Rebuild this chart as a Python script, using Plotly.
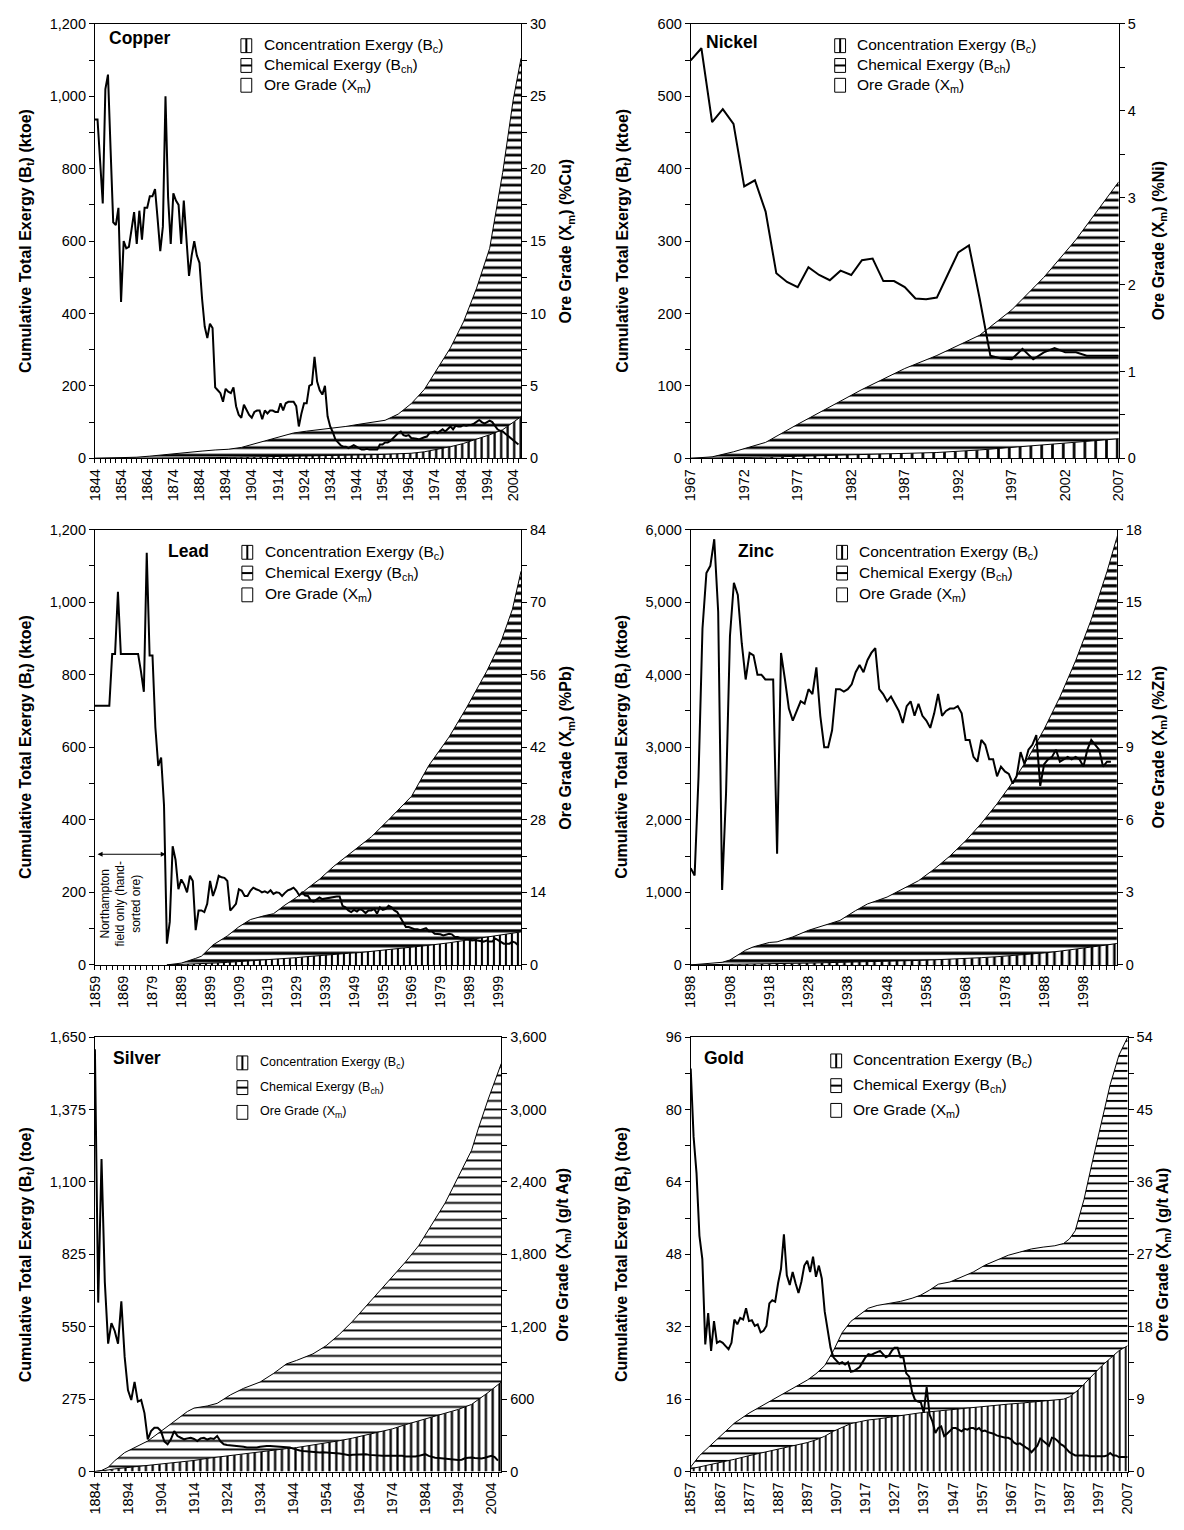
import plotly.graph_objects as go

PAGE_W, PAGE_H = 1184, 1530
BODY_MARGIN = 8                      # default page margin around the plot div
W, H = PAGE_W - BODY_MARGIN, PAGE_H - BODY_MARGIN
FONT = "Arial, Liberation Sans, Helvetica, sans-serif"

# ---------------- Copper ----------------
CU_AREA_YEARS = [1844, 1850, 1855, 1860, 1865, 1870, 1875, 1880, 1885, 1890, 1895, 1900, 1905, 1910, 1915,
                 1920, 1925, 1930, 1935, 1940, 1945, 1950, 1955, 1960, 1965, 1970, 1975, 1980, 1985, 1990,
                 1995, 2000, 2004, 2007]
CU_CONC = [0, 0, 0, 0.3, 0.5, 0.8, 1, 1.3, 1.6, 2, 2.5, 3, 3.5, 4, 4.5, 5, 5.5, 6, 7, 8, 9, 10, 11, 12, 14,
           18, 24, 32, 41, 52, 65, 79, 100, 115]
CU_CHEM = [0, 0.5, 1.5, 2.7, 5.5, 9.2, 13, 15.7, 18.4, 21, 22.5, 27, 36.5, 48, 57.5, 65, 69.5, 73, 76, 80,
           85, 89, 94, 110, 137, 172, 222, 273, 336, 418, 515, 711, 890, 990]
CU_GRADE_START = 1844
CU_GRADE = [23.4, 23.4, 20.5, 17.6, 25.5, 26.5, 21.3, 16.3, 16.1, 17.3, 10.8, 15.0, 14.5, 14.6, 15.8, 17.0,
            14.8, 17.1, 15.1, 17.3, 17.3, 18.1, 18.1, 18.6, 16.5, 14.3, 16.0, 25.0, 18.0, 14.8, 18.3, 17.8,
            17.5, 14.8, 17.8, 14.8, 12.6, 14.0, 15.0, 14.0, 13.5, 11.0, 9.1, 8.3, 9.3, 9.0, 4.9, 4.7, 4.5,
            3.9, 4.8, 4.6, 4.5, 4.9, 3.6, 3.0, 2.8, 3.7, 3.3, 3.0, 2.8, 3.2, 3.3, 3.3, 2.7, 3.3, 3.1, 3.3,
            3.3, 3.2, 3.2, 3.8, 3.3, 3.8, 3.9, 3.9, 3.9, 3.6, 2.2, 3.1, 3.8, 3.8, 5.0, 5.1, 7.0, 5.3, 4.7,
            4.4, 5.0, 2.9, 2.2, 1.8, 1.3, 1.1, 0.9, 0.8, 0.8, 0.7, 0.8, 0.9, 0.8, 0.7, 0.6, 0.6, 0.65, 0.6,
            0.6, 0.65, 0.6, 0.95, 0.95, 1.1, 1.1, 1.2, 1.4, 1.55, 1.75, 1.85, 1.6, 1.55, 1.6, 1.4, 1.4,
            1.35, 1.3, 1.4, 1.45, 1.5, 1.75, 1.8, 1.85, 1.75, 1.9, 2.0, 1.85, 2.05, 2.2, 2.0, 2.25, 2.2,
            2.2, 2.3, 2.25, 2.3, 2.3, 2.4, 2.5, 2.65, 2.5, 2.4, 2.5, 2.6, 2.5, 2.2, 2.0, 1.9, 1.85, 1.7,
            1.55, 1.4, 1.25, 1.1, 0.95]

# ---------------- Nickel ----------------
NI_AREA_YEARS = [1967, 1969, 1971, 1974, 1977, 1980, 1983, 1987, 1990, 1994, 1997, 2000, 2003, 2007]
NI_CONC = [0, 0.2, 0.8, 1.6, 2.8, 4, 5.2, 6.8, 8, 11.5, 15, 18, 21.6, 27]
NI_CHEM = [0, 1.8, 8.2, 20.4, 44.2, 67, 89.8, 117.2, 134, 158.5, 190, 232, 280.4, 355]
NI_GRADE_START = 1967
NI_GRADE = [4.58, 4.72, 3.87, 4.02, 3.85, 3.13, 3.20, 2.84, 2.13, 2.03, 1.97, 2.20, 2.11, 2.05, 2.16, 2.11,
            2.28, 2.30, 2.04, 2.04, 1.97, 1.84, 1.83, 1.85, 2.11, 2.37, 2.45, 1.84, 1.18, 1.15, 1.14, 1.26,
            1.14, 1.22, 1.27, 1.22, 1.22, 1.18, 1.18, 1.18, 1.18]

# ---------------- Lead ----------------
PB_AREA_YEARS = [1884, 1889, 1894, 1896, 1900, 1905, 1909, 1913, 1918, 1921, 1925, 1929, 1933, 1937, 1942,
                 1947, 1951, 1955, 1961, 1965, 1969, 1975, 1982, 1988, 1995, 2000, 2004, 2007]
PB_CONC = [0, 1, 3, 3.5, 5, 7, 9, 11, 14, 16, 18, 20, 23, 26, 29, 32, 34, 37, 42, 45, 48, 54, 61, 68, 76,
           82, 87, 91]
PB_CHEM = [0, 4, 15, 20.5, 50, 73, 96, 114, 122, 125, 147, 166, 189, 210, 243, 271, 296, 316, 358, 387, 417,
           496, 567, 640, 732, 808, 893, 994]
PB_GRADE_START = 1859
PB_GRADE = [50.0, 50.0, 50.0, 50.0, 50.0, 50.0, 60.0, 60.0, 72.0, 60.0, 60.0, 60.0, 60.0, 60.0, 60.0, 60.0,
            56.6, 52.7, 79.5, 59.7, 59.7, 45.8, 38.4, 40.0, 30.8, 4.1, 8.3, 22.9, 20.3, 14.6, 16.5, 15.5,
            14.0, 17.2, 16.2, 6.7, 10.5, 10.5, 10.2, 11.8, 16.2, 13.3, 14.9, 17.2, 16.9, 16.8, 16.2, 10.5,
            11.1, 11.8, 14.6, 14.3, 13.3, 13.3, 14.3, 14.9, 14.6, 14.4, 14.0, 14.2, 13.9, 14.4, 13.7, 14.0,
            13.9, 13.3, 13.9, 14.4, 14.6, 14.9, 14.3, 13.4, 14.0, 13.4, 13.3, 12.4, 12.2, 12.6, 13.0, 12.7,
            12.8, 13.0, 13.0, 13.1, 13.2, 13.2, 11.4, 11.1, 10.5, 10.2, 10.6, 10.3, 10.8, 10.5, 10.0, 10.5,
            10.5, 10.8, 9.9, 11.1, 10.6, 10.8, 11.4, 11.1, 10.5, 10.2, 9.2, 8.3, 7.3, 7.3, 7.1, 6.9, 6.9,
            6.7, 6.9, 7.1, 6.5, 6.5, 6.0, 6.0, 5.9, 5.7, 5.9, 6.0, 5.9, 5.4, 5.4, 5.1, 5.1, 5.0, 4.8, 4.7,
            4.8, 4.7, 4.6, 4.5, 4.7, 4.5, 4.5, 5.1, 4.8, 4.5, 4.1, 4.1, 4.1, 4.5, 4.3, 3.8]

# ---------------- Zinc ----------------
ZN_AREA_YEARS = [1898, 1902, 1906, 1908, 1910, 1912, 1914, 1918, 1920, 1924, 1928, 1932, 1936, 1940, 1943,
                 1948, 1952, 1956, 1960, 1964, 1968, 1972, 1976, 1980, 1984, 1988, 1992, 1996, 2000, 2004,
                 2007]
ZN_CONC = [0, 2, 5, 8, 10, 12, 14, 18, 20, 22, 25, 29, 33, 38, 42, 48, 55, 62, 70, 78, 88, 100, 113, 128,
           145, 165, 190, 215, 245, 275, 300]
ZN_CHEM = [0, 21, 31, 60, 126, 192, 236, 291, 298, 364, 452, 516, 580, 711, 798, 887, 995, 1098, 1250, 1422,
           1622, 1850, 2107, 2392, 2715, 3085, 3500, 3975, 4515, 5145, 5680]
ZN_GRADE_START = 1898
ZN_GRADE = [4.0, 3.7, 7.8, 13.9, 16.2, 16.5, 17.6, 14.6, 3.1, 7.1, 13.6, 15.8, 15.3, 13.3, 11.8, 12.9, 12.8,
            12.0, 12.0, 11.8, 11.8, 11.8, 4.6, 12.9, 11.8, 10.6, 10.1, 10.5, 10.9, 10.8, 11.4, 11.2, 12.3,
            10.3, 9.0, 9.0, 9.7, 11.4, 11.4, 11.3, 11.4, 11.6, 12.1, 12.4, 12.1, 12.6, 12.9, 13.1, 11.4,
            11.2, 10.9, 11.1, 10.8, 10.5, 10.0, 10.7, 10.9, 10.3, 10.8, 10.3, 10.1, 9.8, 10.4, 11.2, 10.3,
            10.5, 10.6, 10.6, 10.7, 10.4, 9.3, 9.3, 8.6, 8.4, 9.3, 9.1, 8.5, 8.5, 7.8, 8.2, 8.0, 7.9, 7.5,
            7.8, 8.8, 8.3, 8.9, 9.1, 9.5, 7.4, 8.3, 8.5, 8.6, 8.9, 8.4, 8.5, 8.6, 8.5, 8.6, 8.5, 8.2, 8.9,
            9.3, 9.1, 8.9, 8.2, 8.4, 8.4]

# ---------------- Silver ----------------
AG_AREA_YEARS = [1884, 1886, 1888, 1890, 1893, 1896, 1900, 1904, 1908, 1912, 1914, 1918, 1921, 1925, 1929,
                 1934, 1938, 1942, 1945, 1950, 1954, 1958, 1962, 1966, 1970, 1974, 1978, 1982, 1986, 1990,
                 1994, 1998, 2000, 2003, 2007]
AG_CONC = [0, 2, 6, 10, 14, 17, 22, 27, 33, 39, 42, 50, 55, 60, 68, 75, 82, 87, 91, 100, 108, 117, 127, 139,
           150, 162, 178, 192, 207, 222, 236, 255, 272, 300, 340]
AG_CHEM = [0, 2, 10, 31, 58, 74, 94, 126, 158, 189, 199, 199, 204, 231, 248, 265, 290, 322, 331, 347, 370,
           404, 444, 488, 533, 578, 618, 666, 732, 798, 884, 965, 1029, 1113, 1210]
AG_GRADE_START = 1884
AG_GRADE = [3500, 1400, 2590, 1570, 1060, 1230, 1165, 1060, 1410, 950, 675, 593, 743, 580, 593, 484, 267,
            335, 362, 362, 335, 250, 226, 267, 335, 294, 280, 267, 275, 280, 270, 253, 275, 280, 265, 275,
            270, 294, 250, 226, 220, 218, 215, 212, 210, 205, 200, 199, 195, 200, 205, 210, 212, 212, 210,
            212, 208, 205, 200, 199, 190, 180, 175, 171, 168, 165, 162, 160, 158, 160, 158, 157, 158, 158,
            150, 145, 140, 136, 140, 142, 144, 144, 144, 138, 135, 132, 131, 130, 131, 132, 131, 131, 135,
            130, 125, 123, 122, 125, 130, 135, 144, 130, 120, 115, 112, 109, 105, 100, 98, 95, 95, 98, 110,
            115, 117, 112, 108, 109, 115, 125, 131, 120, 90]

# ---------------- Gold ----------------
AU_AREA_YEARS = [1857, 1860, 1863, 1867, 1872, 1877, 1882, 1887, 1892, 1897, 1900, 1903, 1906, 1909, 1912,
                 1915, 1918, 1921, 1925, 1929, 1933, 1936, 1939, 1942, 1946, 1950, 1954, 1958, 1962, 1966,
                 1970, 1974, 1978, 1982, 1985, 1987, 1989, 1990, 1992, 1995, 1998, 2001, 2004, 2007]
AU_CONC = [0.6, 1.0, 1.4, 2.0, 2.7, 3.5, 4.2, 4.9, 5.6, 6.4, 7.0, 7.8, 8.9, 9.7, 10.6, 11.0, 11.4, 11.6,
           12.0, 12.4, 12.7, 13.0, 13.2, 13.4, 13.6, 13.8, 14.2, 14.4, 14.6, 14.9, 15.1, 15.3, 15.6, 15.8,
           16.0, 16.5, 17.5, 18.0, 19.3, 21.3, 23.3, 25.0, 26.7, 27.8]
AU_CHEM = [0.4, 2.5, 3.9, 5.8, 8.0, 9.4, 10.5, 11.6, 12.8, 13.8, 14.6, 15.6, 17.8, 21.0, 22.6, 23.7, 24.7,
           25.1, 25.2, 25.2, 25.6, 26.0, 26.9, 28.0, 28.3, 29.2, 29.9, 31.2, 32.1, 32.9, 33.4, 33.9, 34.0,
           34.1, 34.4, 34.9, 35.7, 37.4, 40.8, 47.5, 54.2, 60.5, 65.3, 68.2]
AU_GRADE_START = 1857
AU_GRADE = [50.1, 41.6, 37.1, 29.3, 26.4, 15.8, 19.7, 15.0, 18.7, 16.0, 16.2, 16.0, 15.6, 15.2, 16.0, 18.9,
            18.3, 19.1, 18.9, 20.3, 18.7, 18.8, 18.1, 18.3, 17.3, 17.5, 18.1, 20.9, 21.3, 21.1, 23.4, 25.2,
            29.5, 24.4, 23.2, 24.8, 23.4, 22.2, 23.6, 25.6, 26.2, 24.8, 26.7, 24.2, 25.6, 24.0, 19.9, 17.5,
            15.4, 14.2, 13.8, 13.4, 13.6, 13.3, 13.6, 12.4, 12.5, 12.7, 13.0, 13.6, 14.2, 14.6, 14.5, 14.7,
            14.9, 15.0, 14.6, 14.2, 14.4, 15.0, 15.4, 15.4, 14.2, 14.2, 12.2, 11.8, 9.9, 8.9, 8.7, 8.6, 7.3,
            10.5, 7.1, 6.2, 4.8, 5.4, 5.6, 4.4, 4.7, 5.0, 5.4, 5.4, 5.2, 5.0, 5.3, 5.2, 5.4, 5.4, 5.2, 5.4,
            5.0, 5.1, 4.9, 4.8, 4.7, 4.5, 4.4, 4.3, 4.2, 4.2, 4.0, 3.6, 3.4, 3.5, 3.2, 3.0, 2.8, 2.4, 2.8,
            3.2, 4.1, 3.8, 3.4, 3.2, 4.2, 4.1, 3.8, 3.4, 3.2, 2.8, 2.4, 2.2, 2.0, 2.0, 2.0, 2.0, 2.0, 1.9,
            1.9, 1.9, 1.9, 1.9, 1.9, 2.0, 2.3, 2.0, 2.0, 1.8, 1.8, 1.8, 1.8]

# ---------------- Panel settings (layout only, page pixel positions) ----------------
PANELS = [
    dict(name="Copper", area_years=CU_AREA_YEARS, conc=CU_CONC, chem=CU_CHEM, g0=CU_GRADE_START, grade=CU_GRADE,
         px=(88, 520), py=(16, 455), xr=(1844, 2007), xd=10, xm=2,
         yl=(1200, 200, 100), yr=(30, 5, 2.5), unit="ktoe", runit="%Cu",
         pat=(7.5, 0.36), vpat=(6.5, 0.35), title_xy=(100, 30), leg_x=236, leg_rows=(38, 58, 78), leg_fs=15.5,
         ltx=18, rtx=566),
    dict(name="Nickel", area_years=NI_AREA_YEARS, conc=NI_CONC, chem=NI_CHEM, g0=NI_GRADE_START, grade=NI_GRADE,
         px=(692, 1126), py=(16, 455), xr=(1967, 2007), xd=5, xm=1,
         yl=(600, 100, 50), yr=(5, 1, 0.5), unit="ktoe", runit="%Ni",
         pat=(7.5, 0.36), vpat=(10.8, 0.25), title_xy=(705, 34), leg_x=838, leg_rows=(38, 58, 78), leg_fs=15.5,
         ltx=623, rtx=1167),
    dict(name="Lead", area_years=PB_AREA_YEARS, conc=PB_CONC, chem=PB_CHEM, g0=PB_GRADE_START, grade=PB_GRADE,
         px=(88, 520), py=(527, 967), xr=(1859, 2007), xd=10, xm=2,
         yl=(1200, 200, 100), yr=(84, 14, 7), unit="ktoe", runit="%Pb",
         pat=(7.5, 0.42), vpat=(6.0, 0.35), title_xy=(160, 549), leg_x=237, leg_rows=(550, 571, 593),
         leg_fs=15.5, ltx=18, rtx=566),
    dict(name="Zinc", area_years=ZN_AREA_YEARS, conc=ZN_CONC, chem=ZN_CHEM, g0=ZN_GRADE_START, grade=ZN_GRADE,
         px=(692, 1124), py=(527, 967), xr=(1898, 2006.5), xd=10, xm=2,
         yl=(6000, 1000, 500), yr=(18, 3, 1.5), unit="ktoe", runit="%Zn",
         pat=(7.5, 0.42), vpat=(7.5, 0.35), title_xy=(738, 549), leg_x=840, leg_rows=(550, 571, 593),
         leg_fs=15.5, ltx=623, rtx=1167),
    dict(name="Silver", area_years=AG_AREA_YEARS, conc=AG_CONC, chem=AG_CHEM, g0=AG_GRADE_START, grade=AG_GRADE,
         px=(88, 500), py=(1040, 1479), xr=(1884, 2007), xd=10, xm=2,
         yl=(1650, 275, 137.5), yr=(3600, 600, 300), unit="toe", runit="g/t Ag",
         pat=(8.5, 0.22), vpat=(6.8, 0.33), title_xy=(104, 1061), leg_x=232, leg_rows=(1066, 1091, 1116),
         leg_fs=12.5, ltx=18, rtx=563),
    dict(name="Gold", area_years=AU_AREA_YEARS, conc=AU_CONC, chem=AU_CHEM, g0=AU_GRADE_START, grade=AU_GRADE,
         px=(692, 1135), py=(1040, 1479), xr=(1857, 2007), xd=10, xm=2,
         yl=(96, 16, 8), yr=(54, 9, 4.5), unit="toe", runit="g/t Au",
         pat=(7.5, 0.26), vpat=(6.0, 0.3), title_xy=(703, 1061), leg_x=834, leg_rows=(1064, 1089, 1114),
         leg_fs=15.5, ltx=623, rtx=1171),
]

TICK_FS = 14.5
TITLE_FS = 16
NAME_FS = 17.5


def fx(v):
    return (v - BODY_MARGIN) / W


def fy(v):
    return 1 - (v - BODY_MARGIN) / H


fig = go.Figure()
layout = dict(width=W, height=H, margin=dict(l=0, r=0, t=0, b=0), showlegend=False,
              paper_bgcolor="white", plot_bgcolor="rgba(0,0,0,0)", hovermode=False,
              font=dict(family=FONT, size=TICK_FS, color="black"))
annotations = []
shapes = []

for i, p in enumerate(PANELS, start=1):
    xa = f"x{i}"
    yl_id = 2 * i - 1
    yr_id = 2 * i
    yla = f"y{yl_id}"
    yra = f"y{yr_id}"

    # stacked exergy areas
    fig.add_trace(go.Scatter(
        x=p["area_years"], y=p["conc"], xaxis=xa, yaxis=yla, stackgroup=f"s{i}", mode="lines",
        line=dict(color="black", width=1), fillcolor="white",
        fillpattern=dict(shape="|", fgcolor="black", bgcolor="white", size=p["vpat"][0],
                         solidity=p["vpat"][1], fillmode="replace")))
    fig.add_trace(go.Scatter(
        x=p["area_years"], y=p["chem"], xaxis=xa, yaxis=yla, stackgroup=f"s{i}", mode="lines",
        line=dict(color="black", width=1), fillcolor="white",
        fillpattern=dict(shape="-", fgcolor="black", bgcolor="white", size=p["pat"][0],
                         solidity=p["pat"][1], fillmode="replace")))
    # ore grade
    gyears = list(range(p["g0"], p["g0"] + len(p["grade"])))
    fig.add_trace(go.Scatter(x=gyears, y=p["grade"], xaxis=xa, yaxis=yra, mode="lines",
                             line=dict(color="black", width=2)))

    xdom = [fx(p["px"][0]), fx(p["px"][1])]
    ydom = [fy(p["py"][1]), fy(p["py"][0])]
    axis_common = dict(showgrid=False, zeroline=False, showline=True, linecolor="black", linewidth=1,
                       ticks="outside", tickcolor="black", tickwidth=1,
                       tickfont=dict(family=FONT, size=TICK_FS, color="black"))
    layout[f"xaxis{i}"] = dict(domain=xdom, range=list(p["xr"]), anchor=yla, tickmode="linear",
                               tick0=p["xr"][0], dtick=p["xd"], ticklen=4, tickangle=-90, mirror=True,
                               minor=dict(dtick=p["xm"], tick0=p["xr"][0], ticks="outside", ticklen=4,
                                          tickcolor="black", showgrid=False),
                               **axis_common)
    layout[f"yaxis{yl_id}"] = dict(domain=ydom, range=[0, p["yl"][0]], anchor=xa, tickmode="linear",
                                   tick0=0, dtick=p["yl"][1], tickformat=",", ticklen=5,
                                   minor=dict(dtick=p["yl"][2], tick0=0, ticks="outside", ticklen=5,
                                              tickcolor="black", showgrid=False),
                                   **axis_common)
    layout[f"yaxis{yr_id}"] = dict(domain=ydom, range=[0, p["yr"][0]], anchor=xa, overlaying=yla,
                                   side="right", tickmode="linear", tick0=0, dtick=p["yr"][1],
                                   tickformat=",", ticklen=5,
                                   minor=dict(dtick=p["yr"][2], tick0=0, ticks="outside", ticklen=5,
                                              tickcolor="black", showgrid=False),
                                   **axis_common)

    ymid = (p["py"][0] + p["py"][1]) / 2
    annotations.append(dict(xref="paper", yref="paper", x=fx(p["ltx"]), y=fy(ymid), showarrow=False,
                            textangle=-90, xanchor="center", yanchor="middle",
                            text=f"<b>Cumulative Total Exergy (B<sub>t</sub>) ({p['unit']})</b>",
                            font=dict(family=FONT, size=TITLE_FS, color="black")))
    annotations.append(dict(xref="paper", yref="paper", x=fx(p["rtx"]), y=fy(ymid), showarrow=False,
                            textangle=-90, xanchor="center", yanchor="middle",
                            text=f"<b>Ore Grade (X<sub>m</sub>) ({p['runit']})</b>",
                            font=dict(family=FONT, size=TITLE_FS, color="black")))
    # panel title
    annotations.append(dict(xref="paper", yref="paper", x=fx(p["title_xy"][0]), y=fy(p["title_xy"][1]),
                            showarrow=False, xanchor="left", yanchor="middle", text=f"<b>{p['name']}</b>",
                            font=dict(family=FONT, size=NAME_FS, color="black")))
    # legend (drawn glyphs + labels)
    labels = ["Concentration Exergy (B<sub>c</sub>)", "Chemical Exergy (B<sub>ch</sub>)",
              "Ore Grade (X<sub>m</sub>)"]
    bw, bh = 11, 14
    lx = p["leg_x"]
    for k, (row, lab) in enumerate(zip(p["leg_rows"], labels)):
        x0, x1 = lx, lx + bw
        y0, y1 = row - bh / 2, row + bh / 2
        shapes.append(dict(type="rect", xref="paper", yref="paper", x0=fx(x0), x1=fx(x1), y0=fy(y1),
                           y1=fy(y0), line=dict(color="black", width=1), fillcolor="white"))
        if k == 0:
            shapes.append(dict(type="line", xref="paper", yref="paper", x0=fx(lx + bw / 2), x1=fx(lx + bw / 2),
                               y0=fy(y1), y1=fy(y0), line=dict(color="black", width=2)))
        elif k == 1:
            shapes.append(dict(type="line", xref="paper", yref="paper", x0=fx(x0), x1=fx(x1),
                               y0=fy(row), y1=fy(row), line=dict(color="black", width=2)))
        annotations.append(dict(xref="paper", yref="paper", x=fx(lx + bw + 10), y=fy(row), showarrow=False,
                                xanchor="left", yanchor="middle", text=lab,
                                font=dict(family=FONT, size=p["leg_fs"], color="black")))

# Lead annotation: arrow + note
annotations.append(dict(xref="x3", yref="y5", axref="x3", ayref="y5", x=1883.6, y=305, ax=1859.4, ay=305,
                        text="", showarrow=True, arrowhead=2, startarrowhead=2, arrowside="end+start",
                        arrowsize=1, arrowwidth=1, arrowcolor="black"))
annotations.append(dict(xref="x3", yref="y5", x=1867.9, y=168, showarrow=False, textangle=-90,
                        xanchor="center", yanchor="middle",
                        text="Northampton<br>field only (hand-<br>sorted ore)",
                        font=dict(family=FONT, size=12, color="black")))

layout["annotations"] = annotations
layout["shapes"] = shapes
fig.update_layout(**layout)
fig.write_html("out.html")
